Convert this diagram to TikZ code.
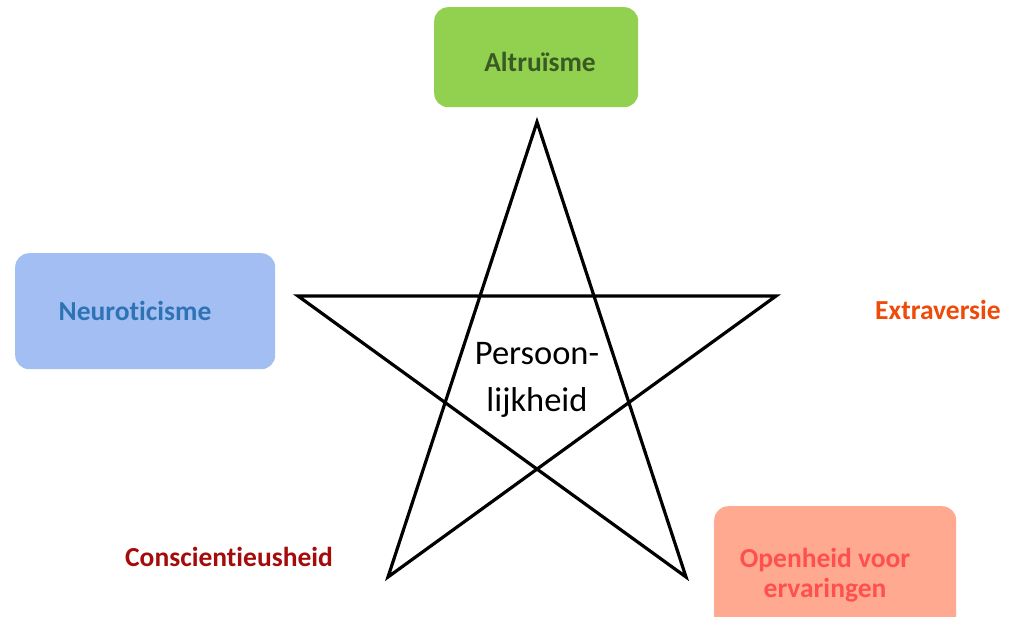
\documentclass[tikz,border=0pt]{standalone}
\usepackage{fontspec}
\setmainfont{Carlito}[Ligatures={NoCommon}]
\definecolor{altfill}{HTML}{92D050}
\definecolor{alttext}{HTML}{3A5A24}
\definecolor{neufill}{HTML}{A3BEF3}
\definecolor{neutext}{HTML}{2E74B5}
\definecolor{opefill}{HTML}{FFA990}
\definecolor{opetext}{HTML}{FF5050}
\definecolor{extext}{HTML}{EE4A0A}
\definecolor{context}{HTML}{A50B0B}
\tikzset{
  trait/.style={rounded corners=14pt, inner sep=0pt, anchor=north west},
  lab/.style={font=\bfseries\fontsize{27.5}{30}\selectfont, align=center},
  starline/.style={line width=3.2pt, line join=miter},
}
\begin{document}
\begin{tikzpicture}[x=1pt,y=-1pt]
\useasboundingbox (0,0) rectangle (1024,617);
% boxes
\begin{scope}
\clip (0,0) rectangle (1024,617);
\node[trait, fill=altfill, minimum width=204pt, minimum height=100pt] (altbox) at (434,7) {};
\node[trait, fill=neufill, minimum width=260pt, minimum height=116pt] (neubox) at (15,253) {};
\node[trait, fill=opefill, minimum width=242pt, minimum height=130pt] (opebox) at (714,506) {};
\end{scope}
% labels
\node[lab, text=alttext] (alt) at (540,62) {Altruïsme};
\node[lab, text=neutext] (neu) at (135,311) {Neuroticisme};
\node[lab, text=extext] (ext) at (938,310) {Extraversie};
\node[lab, text=context] (con) at (229,557) {Conscientieusheid};
\node[lab, text=opetext] (ope) at (825,575) {Openheid voor\\ervaringen};
% star
\coordinate (pt) at (537,122);
\coordinate (pl) at (298,296);
\coordinate (pr) at (776,296);
\coordinate (pbl) at (388,577);
\coordinate (pbr) at (686,577);
\draw[starline] (pt) -- (pbl) -- (pr) -- (pl) -- (pbr) -- cycle;
\node[font=\fontsize{34.5}{47}\selectfont, align=center] (center) at (537,380) {Persoon-\\lijkheid};
\end{tikzpicture}
\end{document}
